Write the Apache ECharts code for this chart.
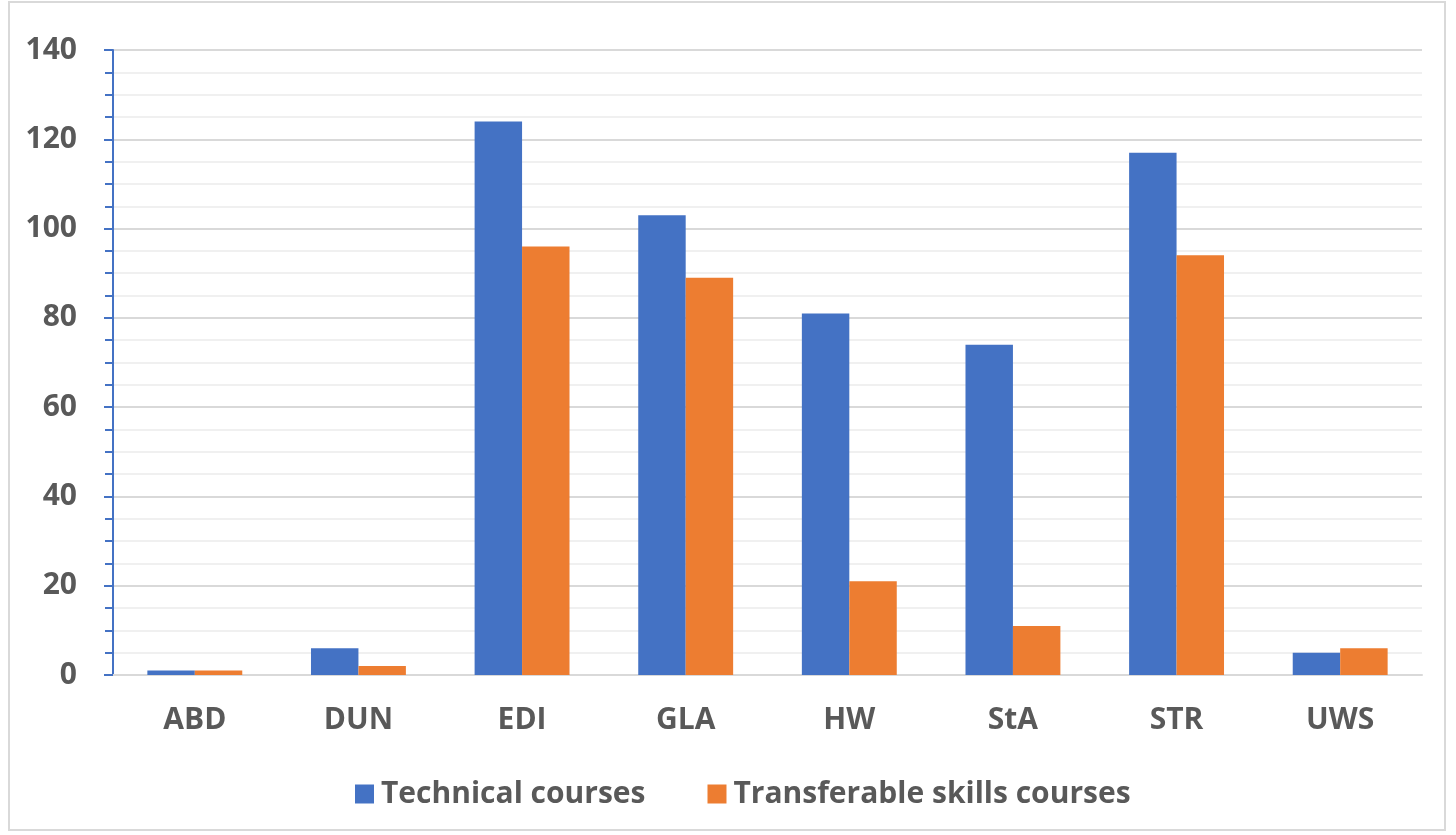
<!DOCTYPE html>
<html>
<head>
<meta charset="utf-8">
<script src="https://cdn.jsdelivr.net/npm/echarts@6/dist/echarts.min.js"></script>
<style>
  html, body { margin: 0; padding: 0; background: #fff; }
  #frame { position: absolute; left: 8px; top: 1px; width: 1438px; height: 830px; border: 2px solid #d9d9d9; box-sizing: border-box; }
  #chart { position: absolute; left: 0; top: 0; width: 1456px; height: 835px; }
</style>
</head>
<body>
<div id="frame"></div>
<div id="chart"></div>
<script>
// 大学代码
const categories = ['ABD', 'DUN', 'EDI', 'GLA', 'HW', 'StA', 'STR', 'UWS']
const technical = [1, 6, 124, 103, 81, 74, 117, 5]
const transferable = [1, 2, 96, 89, 21, 11, 94, 6]

const labelColor = '#595959'
const font = '"Open Sans", sans-serif'

const chart = echarts.init(document.getElementById('chart'))
chart.setOption({
  animation: false,
  grid: { left: 113, right: 34, top: 50, bottom: 160 },
  legend: {
    top: 774,
    left: 350,
    itemWidth: 19,
    itemHeight: 19,
    itemGap: 62,
    icon: 'rect',
    textStyle: { color: labelColor, fontSize: 30, fontWeight: 'bold', fontFamily: font, padding: [0, 0, 0, 2] }
  },
  xAxis: {
    type: 'category',
    data: categories,
    axisLine: { lineStyle: { color: '#d9d9d9', width: 2 } },
    axisTick: { show: false },
    axisLabel: { color: labelColor, fontSize: 30, fontWeight: 'bold', fontFamily: font, margin: 30 }
  },
  yAxis: {
    type: 'value',
    min: 0,
    max: 140,
    interval: 20,
    axisLine: { show: true, lineStyle: { color: '#4472c4', width: 2 } },
    axisTick: { show: true, length: 9, lineStyle: { color: '#4472c4', width: 2 } },
    minorTick: { show: true, splitNumber: 4, length: 8, lineStyle: { color: '#4472c4', width: 2 } },
    splitLine: { lineStyle: { color: '#d9d9d9', width: 2 } },
    minorSplitLine: { show: true, lineStyle: { color: '#f0f0f0', width: 2 } },
    axisLabel: { color: labelColor, fontSize: 30, fontWeight: 'bold', fontFamily: font, margin: 36 }
  },
  series: [
    {
      name: 'Technical courses',
      type: 'bar',
      data: technical,
      barGap: '0%',
      barCategoryGap: '42%',
      itemStyle: { color: '#4472c4' }
    },
    {
      name: 'Transferable skills courses',
      type: 'bar',
      data: transferable,
      itemStyle: { color: '#ed7d31' }
    }
  ]
})
</script>
</body>
</html>
